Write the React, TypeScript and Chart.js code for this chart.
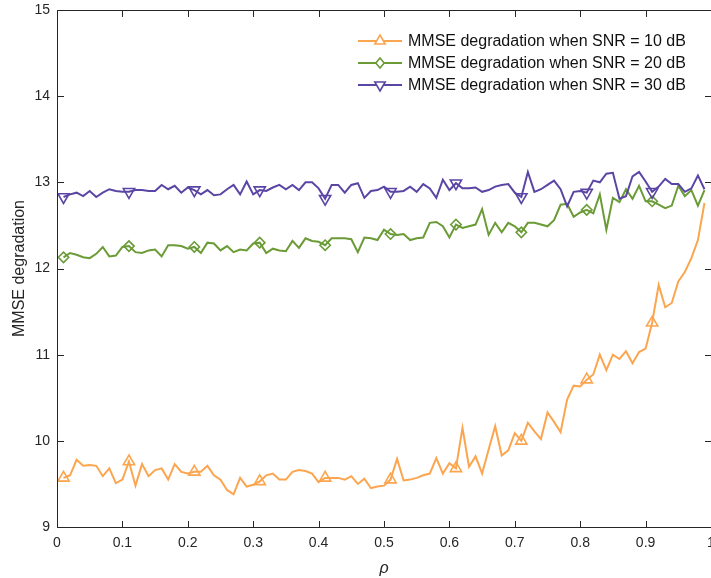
import React, { useEffect, useRef } from 'react';
import { Chart, registerables } from 'chart.js';

Chart.register(...registerables);

// ---- data ----
const rho: number[] = [
  0.01, 0.02, 0.03, 0.04, 0.05, 0.06, 0.07, 0.08, 0.09, 0.1,
  0.11, 0.12, 0.13, 0.14, 0.15, 0.16, 0.17, 0.18, 0.19, 0.2,
  0.21, 0.22, 0.23, 0.24, 0.25, 0.26, 0.27, 0.28, 0.29, 0.3,
  0.31, 0.32, 0.33, 0.34, 0.35, 0.36, 0.37, 0.38, 0.39, 0.4,
  0.41, 0.42, 0.43, 0.44, 0.45, 0.46, 0.47, 0.48, 0.49, 0.5,
  0.51, 0.52, 0.53, 0.54, 0.55, 0.56, 0.57, 0.58, 0.59, 0.6,
  0.61, 0.62, 0.63, 0.64, 0.65, 0.66, 0.67, 0.68, 0.69, 0.7,
  0.71, 0.72, 0.73, 0.74, 0.75, 0.76, 0.77, 0.78, 0.79, 0.8,
  0.81, 0.82, 0.83, 0.84, 0.85, 0.86, 0.87, 0.88, 0.89, 0.9,
  0.91, 0.92, 0.93, 0.94, 0.95, 0.96, 0.97, 0.98, 0.99,
];

const snr10: number[] = [
  9.57, 9.60, 9.78, 9.71, 9.72, 9.71, 9.59, 9.68, 9.51, 9.55,
  9.76, 9.48, 9.73, 9.59, 9.66, 9.68, 9.55, 9.73, 9.64, 9.62,
  9.64, 9.64, 9.71, 9.60, 9.55, 9.43, 9.38, 9.57, 9.47, 9.49,
  9.53, 9.60, 9.62, 9.55, 9.55, 9.64, 9.66, 9.65, 9.62, 9.52,
  9.57, 9.57, 9.57, 9.55, 9.59, 9.50, 9.56, 9.45, 9.47, 9.48,
  9.55, 9.79, 9.54, 9.55, 9.57, 9.60, 9.62, 9.80, 9.62, 9.74,
  9.68, 10.15, 9.70, 9.82, 9.62, 9.90, 10.17, 9.83, 9.89, 10.09,
  10.00, 10.21, 10.11, 10.02, 10.33, 10.22, 10.10, 10.48, 10.64, 10.63,
  10.71, 10.77, 11.00, 10.82, 11.00, 10.95, 11.04, 10.90, 11.03, 11.07,
  11.37, 11.81, 11.55, 11.60, 11.85, 11.96, 12.12, 12.33, 12.76,
];

const snr20: number[] = [
  12.13, 12.18, 12.16, 12.13, 12.12, 12.17, 12.25, 12.14, 12.15, 12.25,
  12.26, 12.19, 12.18, 12.21, 12.22, 12.14, 12.27, 12.27, 12.26, 12.23,
  12.25, 12.18, 12.30, 12.29, 12.21, 12.26, 12.19, 12.22, 12.21, 12.29,
  12.30, 12.18, 12.23, 12.21, 12.20, 12.32, 12.24, 12.35, 12.32, 12.31,
  12.27, 12.35, 12.35, 12.35, 12.34, 12.19, 12.36, 12.35, 12.33, 12.45,
  12.40, 12.39, 12.40, 12.33, 12.35, 12.36, 12.53, 12.54, 12.49, 12.36,
  12.51, 12.47, 12.49, 12.51, 12.69, 12.39, 12.53, 12.42, 12.53, 12.49,
  12.42, 12.53, 12.53, 12.51, 12.49, 12.56, 12.74, 12.75, 12.60, 12.65,
  12.68, 12.64, 12.86, 12.45, 12.82, 12.77, 12.92, 12.81, 12.96, 12.78,
  12.78, 12.74, 12.70, 12.73, 12.96, 12.84, 12.91, 12.73, 12.91,
];

const snr30: number[] = [
  12.83, 12.86, 12.88, 12.84, 12.90, 12.83, 12.88, 12.92, 12.90, 12.89,
  12.89, 12.91, 12.91, 12.90, 12.90, 12.97, 12.92, 12.96, 12.88, 12.94,
  12.91, 12.86, 12.91, 12.85, 12.86, 12.92, 12.97, 12.86, 13.01, 12.86,
  12.91, 12.90, 12.94, 12.97, 12.92, 12.97, 12.91, 13.00, 13.00, 12.93,
  12.81, 12.97, 12.97, 12.88, 12.97, 12.99, 12.82, 12.90, 12.91, 12.95,
  12.89, 12.89, 12.90, 12.95, 12.89, 12.98, 12.93, 12.82, 13.03, 12.91,
  12.99, 12.93, 12.93, 12.94, 12.89, 12.91, 12.95, 12.97, 12.98, 12.88,
  12.83, 13.12, 12.89, 12.92, 12.97, 13.02, 12.92, 12.72, 12.89, 12.90,
  12.88, 13.02, 13.00, 13.10, 13.11, 12.81, 12.84, 13.07, 13.12, 13.01,
  12.89, 12.95, 13.04, 12.98, 12.98, 12.89, 12.93, 13.08, 12.92,
];

const seriesLabels: string[] = [
  'MMSE degradation when SNR = 10 dB',
  'MMSE degradation when SNR = 20 dB',
  'MMSE degradation when SNR = 30 dB',
];

const xTicks: number[] = [0, 0.1, 0.2, 0.3, 0.4, 0.5, 0.6, 0.7, 0.8, 0.9, 1];
const yTicks: number[] = [9, 10, 11, 12, 13, 14, 15];

const xTitle = 'ρ';
const yTitle = 'MMSE degradation';

// ---- styles ----
const FONT = "'Liberation Sans', Arial, Helvetica, sans-serif";
const AXIS_COLOR = '#262626';
const COLORS = ['#FCA54F', '#6A9B36', '#5B45A4'];
const MARKERS = ['up', 'diamond', 'down'];
const MARKER_EVERY = 10;

function fmtTick(v: number): string {
  return (Math.round(v * 10) / 10).toString();
}

function markerPath(ctx: CanvasRenderingContext2D, kind: string, cx: number, cy: number) {
  ctx.beginPath();
  if (kind === 'up') {
    const r = 6;
    ctx.moveTo(cx, cy - r);
    ctx.lineTo(cx + r * 0.866, cy + r / 2);
    ctx.lineTo(cx - r * 0.866, cy + r / 2);
  } else if (kind === 'down') {
    const r = 6;
    ctx.moveTo(cx, cy + r);
    ctx.lineTo(cx + r * 0.866, cy - r / 2);
    ctx.lineTo(cx - r * 0.866, cy - r / 2);
  } else {
    ctx.moveTo(cx, cy - 5);
    ctx.lineTo(cx + 4.2, cy);
    ctx.lineTo(cx, cy + 5);
    ctx.lineTo(cx - 4.2, cy);
  }
  ctx.closePath();
}

const boxPlugin = {
  id: 'matlabBox',
  afterDraw(chart: any) {
    const { ctx, chartArea } = chart;
    const { left, right, top, bottom } = chartArea;
    const xs = chart.scales.x;
    const ys = chart.scales.y;
    const tl = 6.5;
    ctx.save();
    ctx.strokeStyle = AXIS_COLOR;
    ctx.lineWidth = 1;
    const L = Math.round(left) + 0.5;
    const R = Math.round(right) + 0.5;
    const T = Math.round(top) + 0.5;
    const B = Math.round(bottom) + 0.5;
    ctx.beginPath();
    ctx.moveTo(L, T);
    ctx.lineTo(R, T);
    ctx.lineTo(R, B);
    ctx.lineTo(L, B);
    ctx.closePath();
    ctx.stroke();
    ctx.beginPath();
    xTicks.forEach((v) => {
      const px = Math.round(xs.getPixelForValue(v)) + 0.5;
      ctx.moveTo(px, B);
      ctx.lineTo(px, B - tl);
      ctx.moveTo(px, T);
      ctx.lineTo(px, T + tl);
    });
    yTicks.forEach((v) => {
      const py = Math.round(ys.getPixelForValue(v)) + 0.5;
      ctx.moveTo(L, py);
      ctx.lineTo(L + tl, py);
      ctx.moveTo(R, py);
      ctx.lineTo(R - tl, py);
    });
    ctx.stroke();

    // legend
    const rowY0 = 41;
    const rowGap = 22;
    chart.data.datasets.forEach((ds: any, i: number) => {
      const y = rowY0 + rowGap * i;
      ctx.strokeStyle = COLORS[i];
      ctx.lineWidth = 2;
      ctx.beginPath();
      ctx.moveTo(358, y);
      ctx.lineTo(402, y);
      ctx.stroke();
      ctx.fillStyle = '#ffffff';
      markerPath(ctx, MARKERS[i], 380, y);
      ctx.fill();
      ctx.lineWidth = 1.6;
      ctx.stroke();
      ctx.fillStyle = '#111111';
      ctx.font = `16px ${FONT}`;
      ctx.textAlign = 'left';
      ctx.textBaseline = 'middle';
      ctx.fillText(ds.label, 408, y + 0.5);
    });
    ctx.restore();
  },
};

export default function App() {
  const canvasRef = useRef<HTMLCanvasElement | null>(null);

  useEffect(() => {
    const canvas = canvasRef.current;
    if (!canvas) return;
    const series = [snr10, snr20, snr30];
    const pointStyles = ['triangle', 'rectRot', 'triangle'];
    const pointRotations = [0, 0, 180];
    const pointRadii = [6.5, 5.2, 6.5];

    const chart = new Chart(canvas, {
      type: 'line',
      data: {
        datasets: series.map((vals, i) => ({
          label: seriesLabels[i],
          data: rho.map((x, k) => ({ x, y: vals[k] })),
          borderColor: COLORS[i],
          backgroundColor: COLORS[i],
          borderWidth: 2,
          tension: 0,
          fill: false,
          order: 2 - i,
          pointStyle: pointStyles[i] as any,
          pointRotation: pointRotations[i],
          pointRadius: (c: any) => (c.dataIndex % MARKER_EVERY === 0 ? pointRadii[i] : 0),
          pointHoverRadius: 0,
          pointBorderColor: COLORS[i],
          pointBackgroundColor: 'rgba(0,0,0,0)',
          pointBorderWidth: 1.6,
        })),
      },
      options: {
        responsive: false,
        animation: false,
        devicePixelRatio: 1,
        layout: { autoPadding: false, padding: { top: 10, right: 0, left: 0, bottom: 0 } },
        plugins: {
          legend: { display: false },
          tooltip: { enabled: false },
        },
        scales: {
          x: {
            type: 'linear',
            min: 0,
            max: 1,
            grid: { display: false, drawTicks: false },
            border: { display: false },
            afterBuildTicks: (s: any) => {
              s.ticks = xTicks.map((v) => ({ value: v }));
            },
            ticks: {
              callback: (v: any) => fmtTick(Number(v)),
              font: { family: FONT, size: 14 },
              color: AXIS_COLOR,
              padding: 8,
              maxRotation: 0,
              autoSkip: false,
            },
            title: {
              display: true,
              text: xTitle,
              font: { family: FONT, size: 16, style: 'italic' },
              color: AXIS_COLOR,
              padding: { top: 0, bottom: 0 },
            },
            afterFit: (s: any) => {
              s.height = 51;
              s.paddingLeft = 0;
              s.paddingRight = 0;
            },
          },
          y: {
            type: 'linear',
            min: 9,
            max: 15,
            grid: { display: false, drawTicks: false },
            border: { display: false },
            afterBuildTicks: (s: any) => {
              s.ticks = yTicks.map((v) => ({ value: v }));
            },
            ticks: {
              callback: (v: any) => String(v),
              font: { family: FONT, size: 14 },
              color: AXIS_COLOR,
              padding: 7,
            },
            title: {
              display: true,
              text: yTitle,
              font: { family: FONT, size: 16 },
              color: AXIS_COLOR,
              padding: { top: 10, bottom: 0 },
            },
            afterFit: (s: any) => {
              s.width = 57;
              s.paddingTop = 0;
              s.paddingBottom = 0;
            },
          },
        },
      } as any,
      plugins: [boxPlugin],
    });

    return () => {
      chart.destroy();
    };
  }, []);

  return (
    <div
      style={{
        position: 'fixed',
        left: 0,
        top: 0,
        width: 711,
        height: 578,
        background: '#ffffff',
      }}
    >
      <canvas ref={canvasRef} width={711} height={578} style={{ width: 711, height: 578, display: 'block' }} />
    </div>
  );
}
